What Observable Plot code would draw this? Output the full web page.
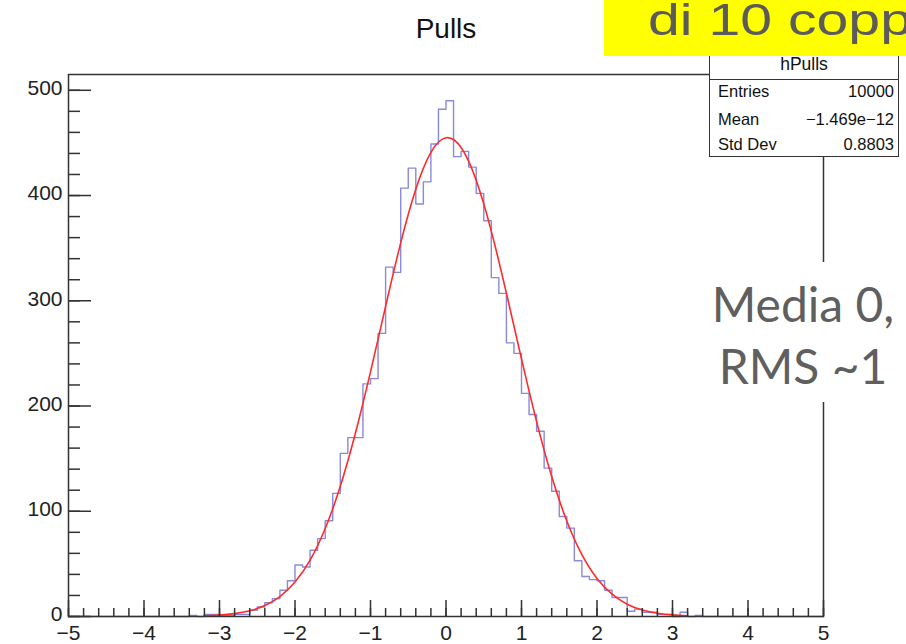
<!DOCTYPE html>
<html>
<head>
<meta charset="utf-8">
<script src="https://cdn.jsdelivr.net/npm/d3@7"></script>
<script src="https://cdn.jsdelivr.net/npm/@observablehq/plot@0.6"></script>
<style>
  html, body { margin: 0; padding: 0; background: #fff; overflow: hidden; }
  #wrap { position: relative; width: 906px; height: 644px; overflow: hidden; font-family: "Liberation Sans", Arial, sans-serif; }
  #chart { position: absolute; left: 0; top: 0; }
  .title { position: absolute; left: 346px; width: 200px; top: 13px; text-align: center; font-size: 28px; color: #111; }
  .yellow { position: absolute; left: 604px; top: 0; width: 302px; height: 56px; background: #ffff00; overflow: hidden; }
  .yellow span { position: absolute; left: 44px; top: -5px; font-size: 44px; color: #5b5b5b; white-space: nowrap; transform: scaleX(1.3); transform-origin: 0 0; }
  .stats { position: absolute; left: 709px; top: 48px; width: 188px; height: 107px; border: 1.5px solid #333; background: #fff; font-size: 16.5px; color: #111; }
  .stats .hdr { position: absolute; left: 0; right: 0; top: 5px; text-align: center; font-size: 17.5px; }
  .stats .sep { position: absolute; left: 0; right: 0; top: 30px; border-top: 1.5px solid #333; }
  .stats .row { position: absolute; left: 8px; right: 4px; display: flex; justify-content: space-between; }
  .note { position: absolute; left: 700px; top: 262px; width: 206px; height: 140px; background: #fff; font-family: Lato, "Open Sans", sans-serif; color: #5f5f5f; font-size: 48px; text-align: center; line-height: 62px; padding-top: 11px; box-sizing: border-box; }
</style>
</head>
<body>
<div id="wrap">
  <div id="chart"></div>
  <div class="title">Pulls</div>
  <div class="stats">
    <div class="hdr">hPulls</div>
    <div class="sep"></div>
    <div class="row" style="top:33px"><span>Entries</span><span>10000</span></div>
    <div class="row" style="top:61px"><span>Mean</span><span>−1.469e−12</span></div>
    <div class="row" style="top:86px"><span>Std Dev</span><span>0.8803</span></div>
  </div>
  <div class="yellow"><span>di 10 copp</span></div>
  <div class="note">Media 0,<br>RMS ~1</div>
</div>
<script>
// Histogram "hPulls": bins of width 0.1 starting at -3.4 (outside: empty)
const binStart = -3.4;
const binWidth = 0.1;
const counts = [
  1, 0, 2, 2, 1, 1, 2, 2,
  6, 9, 13, 17, 25, 34, 49, 47, 63, 74, 91, 117, 155, 170, 170, 221, 226, 269, 332, 327, 407, 426, 392, 413, 449, 482,
  490, 437, 442, 427, 402, 376, 322, 307, 260, 250,
  212, 192, 176, 141, 119, 95, 84, 53, 38, 35,
  34, 25, 18, 18, 5, 7, 4, 4, 2, 2,
  0, 4, 0, 1
];
// Red gaussian fit curve
const fitX = [-3.2, -3.0, -2.8, -2.6, -2.4, -2.2, -2.0, -1.8, -1.6, -1.4, -1.2, -1.0, -0.8, -0.6, -0.4, -0.2, 0.0,
              0.2, 0.4, 0.6, 0.8, 1.0, 1.2, 1.4, 1.6, 1.8, 2.0, 2.2, 2.4, 2.6, 2.8, 3.0, 3.2];
const fitY = [0.6, 1.3, 2.7, 5.4, 10.4, 18.9, 32.7, 53.6, 83.6, 123.8, 174.1, 232.4, 294.7, 355.0, 406.0, 441.0, 454.9,
              445.6, 414.5, 366.2, 307.2, 244.8, 185.2, 133.0, 90.8, 58.8, 36.2, 21.2, 11.7, 6.2, 3.1, 1.5, 0.7];
const xDomain = [-5, 5];
const yDomain = [0, 515];
const xMajor = [-5, -4, -3, -2, -1, 0, 1, 2, 3, 4, 5];
const yMajor = [0, 100, 200, 300, 400, 500];
const xMinor = d3.range(-50, 51, 2).map(v => v / 10);
const yMinor = d3.range(0, 520, 20);

const W = 906, H = 644;
const mL = 68, mR = 83, mT = 74, mB = 28;
const fw = W - mL - mR, fh = H - mT - mB;

const hist = [{x: xDomain[0], y: 0}];
counts.forEach((c, i) => hist.push({x: binStart + i * binWidth, y: c}));
hist.push({x: binStart + counts.length * binWidth, y: 0});
hist.push({x: xDomain[1], y: 0});
const fit = fitX.map((x, i) => ({x, y: fitY[i]}));

const axisColor = "#333";
const chart = Plot.plot({
  width: W, height: H,
  marginLeft: mL, marginRight: mR, marginTop: mT, marginBottom: mB,
  style: {fontFamily: "Liberation Sans, Arial, sans-serif", color: "#222", background: "transparent"},
  x: {domain: xDomain, axis: null},
  y: {domain: yDomain, axis: null},
  marks: [
    Plot.line(hist, {x: "x", y: "y", curve: "step-after", stroke: "#7474d8", strokeWidth: 1.4, strokeOpacity: 0.85}),
    Plot.line(fit, {x: "x", y: "y", curve: "natural", stroke: "#ff2a2a", strokeWidth: 1.6}),
    Plot.tickX(xMajor, {x: d => d, stroke: axisColor, strokeWidth: 1.5, insetTop: fh - 16}),
    Plot.tickX(xMinor, {x: d => d, stroke: axisColor, strokeWidth: 1.5, insetTop: fh - 8}),
    Plot.tickY(yMajor, {y: d => d, stroke: axisColor, strokeWidth: 1.5, insetRight: fw - 23}),
    Plot.tickY(yMinor, {y: d => d, stroke: axisColor, strokeWidth: 1.5, insetRight: fw - 12}),
    Plot.axisX(xMajor, {tickSize: 0, tickPadding: 9, fontSize: 21, label: null}),
    Plot.axisY(yMajor, {tickSize: 0, tickPadding: 6, fontSize: 21, dy: -2, label: null}),
    Plot.frame({stroke: axisColor, strokeWidth: 1.5})
  ]
});
document.getElementById("chart").appendChild(chart);
</script>
</body>
</html>
